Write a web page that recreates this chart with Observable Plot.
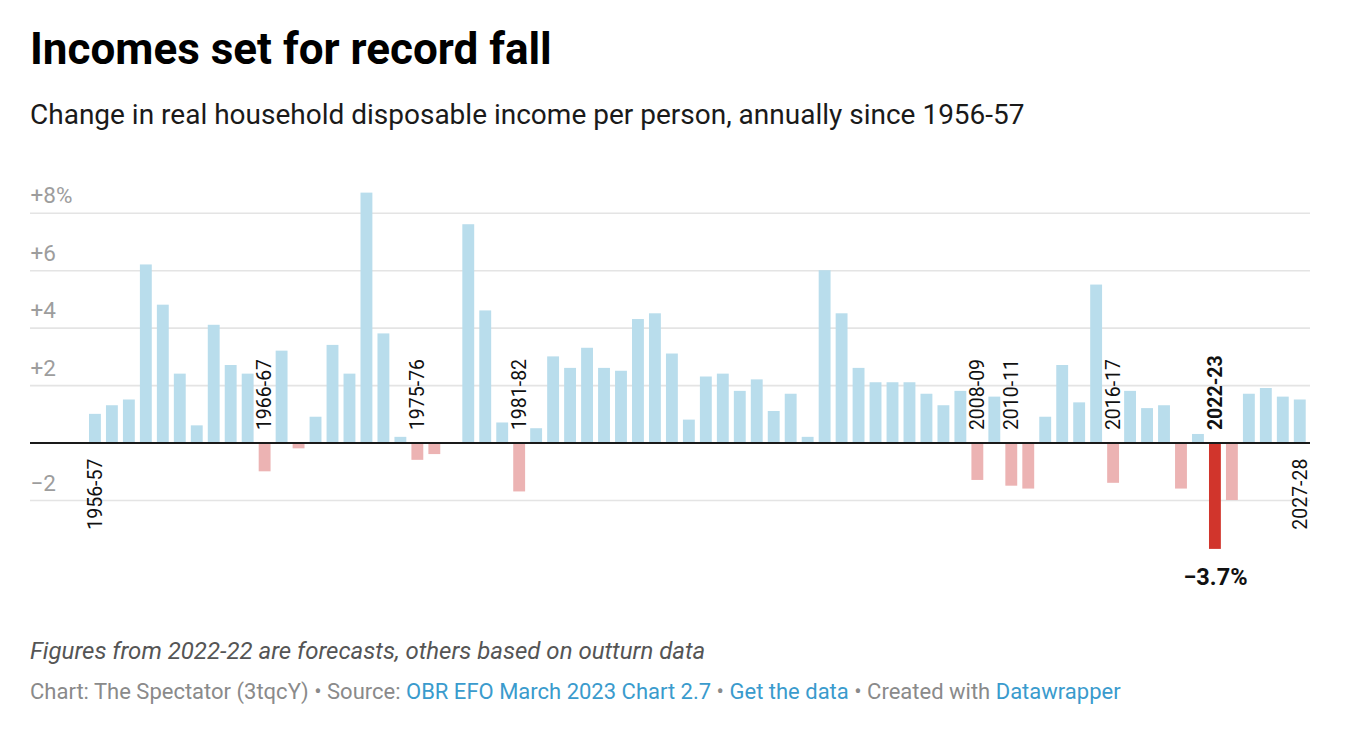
<!DOCTYPE html>
<html>
<head>
<meta charset="utf-8">
<script src="https://cdn.jsdelivr.net/npm/d3@7"></script>
<script src="https://cdn.jsdelivr.net/npm/@observablehq/plot@0.6"></script>
<style>
  html, body { margin: 0; padding: 0; background: #fff; }
  body { width: 1346px; height: 738px; position: relative; font-family: Roboto, sans-serif; overflow: hidden; }
  #title { position: absolute; left: 30px; top: 24px; font-size: 44px; line-height: 50px; font-weight: 700; color: #000; white-space: nowrap; }
  #subtitle { position: absolute; left: 30px; top: 99px; font-size: 28px; line-height: 32px; color: #1a1a1a; white-space: nowrap; }
  #chart { position: absolute; left: 0; top: 150px; }
  #note { position: absolute; left: 30px; top: 637px; font-size: 24px; line-height: 28px; font-style: italic; color: #555; white-space: nowrap; }
  #source { position: absolute; left: 30px; top: 679px; font-size: 22px; line-height: 26px; color: #8a8a8a; white-space: nowrap; }
  #source a { color: #3a9bcd; text-decoration: none; }
</style>
</head>
<body>
<div id="title">Incomes set for record fall</div>
<div id="subtitle">Change in real household disposable income per person, annually since 1956-57</div>
<div id="chart"></div>
<div id="note">Figures from 2022-22 are forecasts, others based on outturn data</div>
<div id="source">Chart: The Spectator (3tqcY) • Source: <a>OBR EFO March 2023 Chart 2.7</a> • <a>Get the data</a> • Created with <a>Datawrapper</a></div>
<script>
const periods = [
  "1956-57","1957-58","1958-59","1959-60","1960-61","1961-62","1962-63","1963-64","1964-65","1965-66",
  "1966-67","1967-68","1968-69","1969-70","1970-71","1971-72","1972-73","1973-74","1974-75","1975-76",
  "1976-77","1977-78","1978-79","1979-80","1980-81","1981-82","1982-83","1983-84","1984-85","1985-86",
  "1986-87","1987-88","1988-89","1989-90","1990-91","1991-92","1992-93","1993-94","1994-95","1995-96",
  "1996-97","1997-98","1998-99","1999-00","2000-01","2001-02","2002-03","2003-04","2004-05","2005-06",
  "2006-07","2007-08","2008-09","2009-10","2010-11","2011-12","2012-13","2013-14","2014-15","2015-16",
  "2016-17","2017-18","2018-19","2019-20","2020-21","2021-22","2022-23","2023-24","2024-25","2025-26",
  "2026-27","2027-28"
];
const values = [
  1.0, 1.3, 1.5, 6.2, 4.8, 2.4, 0.6, 4.1, 2.7, 2.4,
  -1.0, 3.2, -0.2, 0.9, 3.4, 2.4, 8.7, 3.8, 0.2, -0.6,
  -0.4, 0.0, 7.6, 4.6, 0.7, -1.7, 0.5, 3.0, 2.6, 3.3,
  2.6, 2.5, 4.3, 4.5, 3.1, 0.8, 2.3, 2.4, 1.8, 2.2,
  1.1, 1.7, 0.2, 6.0, 4.5, 2.6, 2.1, 2.1, 2.1, 1.7,
  1.3, 1.8, -1.3, 1.6, -1.5, -1.6, 0.9, 2.7, 1.4, 5.5,
  -1.4, 1.8, 1.2, 1.3, -1.6, 0.3, -3.7, -2.0, 1.7, 1.9,
  1.6, 1.5
];
const yTicks = [8, 6, 4, 2, -2];
const yTickLabels = ["+8%", "+6", "+4", "+2", "\u22122"];
const labelledPeriods = ["1956-57","1966-67","1975-76","1981-82","2008-09","2010-11","2016-17","2022-23","2027-28"];
const highlight = "2022-23";

const colorPos = "#b9ddec";
const colorNeg = "#ecb3b3";
const colorHighlight = "#d1352c";

const table = periods.map((p, i) => ({period: p, value: values[i]}));
const ticks = yTicks.map((v, i) => ({value: v, label: yTickLabels[i]}));
const labelled = table.filter(d => labelledPeriods.includes(d.period));

const chart = Plot.plot({
  width: 1346,
  height: 460,
  marginTop: 34,
  marginBottom: 23.75,
  marginLeft: 30,
  marginRight: 36,
  style: {fontFamily: "Roboto, sans-serif", background: "transparent"},
  x: {type: "band", domain: periods, range: [83.9, 1310.8], padding: 0.3, axis: null},
  y: {domain: [-5, 9], axis: null},
  color: {type: "identity"},
  marks: [
    Plot.ruleY(ticks, {y: "value", stroke: "#e4e4e4", strokeWidth: 1.6}),
    Plot.text(ticks, {y: "value", text: "label", frameAnchor: "left", textAnchor: "start", lineAnchor: "bottom", dy: -10, fill: "#9d9d9d", fontSize: 22.5}),
    Plot.barY(table, {
      x: "period", y: "value",
      fill: d => d.period === highlight ? colorHighlight : (d.value < 0 ? colorNeg : colorPos)
    }),
    Plot.ruleY([0], {stroke: "#1a1a1a", strokeWidth: 2}),
    Plot.text(labelled.filter(d => d.value < 0 && d.period !== highlight), {
      x: "period", y: 0, text: "period", rotate: -90, textAnchor: "start", lineAnchor: "middle",
      dy: -13, fill: "#111", fontSize: 19.5
    }),
    Plot.text(labelled.filter(d => d.period === highlight), {
      x: "period", y: 0, text: "period", rotate: -90, textAnchor: "start", lineAnchor: "middle",
      dy: -13, fill: "#111", fontSize: 19.5, fontWeight: "bold"
    }),
    Plot.text(labelled.filter(d => d.value >= 0), {
      x: "period", y: 0, text: "period", rotate: -90, textAnchor: "end", lineAnchor: "middle",
      dy: 15.5, fill: "#111", fontSize: 19.5
    }),
    Plot.text(table.filter(d => d.period === highlight), {
      x: "period", y: "value", text: d => "\u2212" + Math.abs(d.value).toFixed(1) + "%",
      lineAnchor: "top", dy: 18.5, fill: "#111", fontSize: 23.5, fontWeight: "bold"
    })
  ]
});
document.getElementById("chart").appendChild(chart);
</script>
</body>
</html>
